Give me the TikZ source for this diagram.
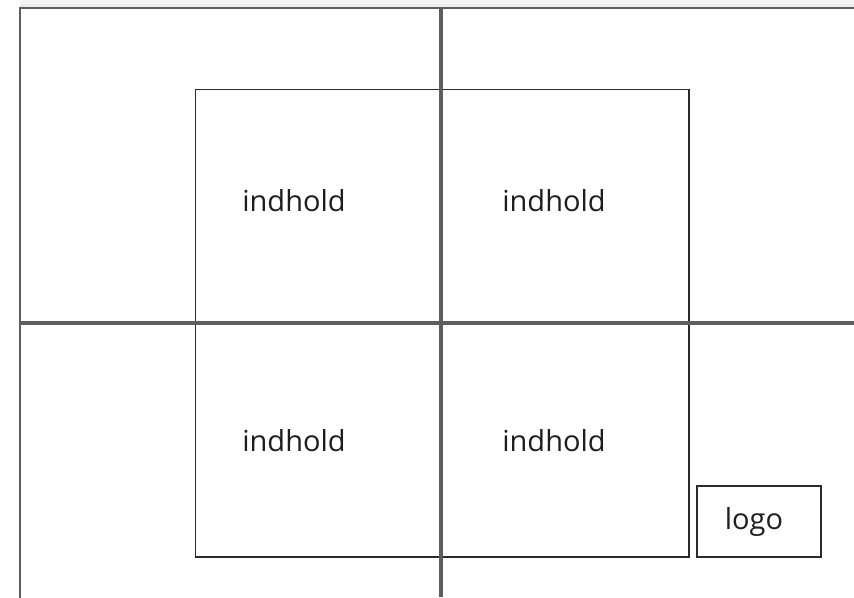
\documentclass[tikz,border=0pt]{standalone}
\usepackage{fontspec}
\setmainfont{Open Sans}
\definecolor{frameg}{HTML}{5E5E5E}
\definecolor{boxg}{HTML}{2A2A2A}
\definecolor{textg}{HTML}{1E1E1E}
\begin{document}
\begin{tikzpicture}[x=1pt,y=-1pt,
  framestyle/.style={draw=frameg,line width=2pt},
  divider/.style={draw=frameg,line width=3.2pt},
  contentbox/.style={draw=boxg,line width=1.2pt},
  label/.style={font=\fontsize{29}{34}\selectfont,text=textg,inner sep=0pt},
  logobox/.style={draw=boxg,line width=1.2pt,minimum width=124pt,minimum height=71pt,inner sep=0pt},
  logotext/.style={font=\fontsize{29}{34}\selectfont,text=textg,inner sep=0pt}]
\useasboundingbox (0,0) rectangle (854,597);
\clip (0,0) rectangle (854,597);
\fill[gray!8] (20,0) rectangle (854,6);
\fill[gray!15] (20,4) rectangle (854,6.5);
% outer frame
\coordinate (ftl) at (19.5,7.5);
\coordinate (fbr) at (870,610);
\draw[framestyle] (ftl) rectangle (fbr);
% content area
\coordinate (ctl) at (195.5,89.5);
\coordinate (cbr) at (689,557);
\draw[contentbox] (ctl) rectangle (cbr);
% dividers
\coordinate (vtop) at (441,7);
\coordinate (vbot) at (441,597);
\coordinate (hl) at (19,323);
\coordinate (hr) at (854,323);
\draw[divider] (vtop) -- (vbot);
\draw[divider] (hl) -- (hr);
% labels
\node[label] (t1) at (294,201) {indhold};
\node[label] (t2) at (554,201) {indhold};
\node[label] (t3) at (294,441) {indhold};
\node[label] (t4) at (554,441) {indhold};
\node[logobox] (logo) at (759,521.5) {};
\node[logotext] (logot) at (754,521.5) {logo};
\end{tikzpicture}
\end{document}
